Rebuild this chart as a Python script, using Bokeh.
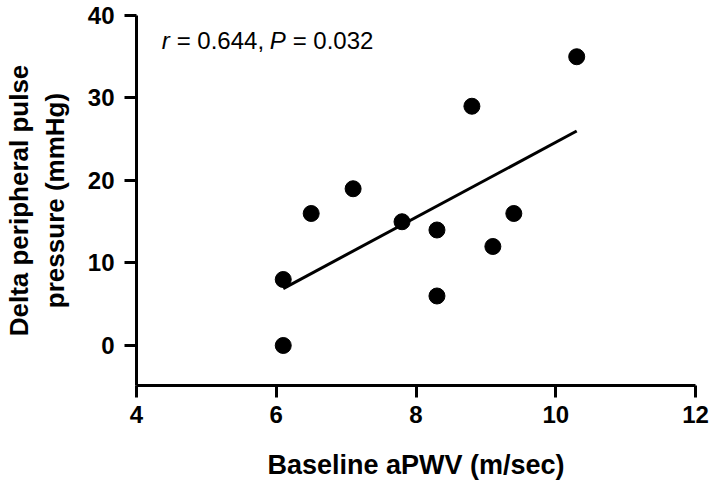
import numpy as np
from bokeh.plotting import figure
from bokeh.models import Range1d, FixedTicker, Label
from bokeh.embed import file_html
from bokeh.resources import INLINE

# Data
aPWV = [6.1, 6.1, 6.5, 7.1, 7.8, 8.3, 8.3, 8.8, 9.1, 9.4, 10.3]
delta_pp = [8, 0, 16, 19, 15, 14, 6, 29, 12, 16, 35]
x_ticks = [4, 6, 8, 10, 12]
y_ticks = [0, 10, 20, 30, 40]
ann_r = "r"
ann_r_val = "= 0.644,"
ann_p = "P"
ann_p_val = "= 0.032"

p = figure(width=709, height=487, output_backend="svg", toolbar_location=None,
           x_range=Range1d(4, 12), y_range=Range1d(-4.85, 40),
           min_border_left=135, min_border_right=14, min_border_top=15, min_border_bottom=102)
p.grid.visible = False
p.outline_line_color = None
p.background_fill_color = "white"
p.border_fill_color = "white"

# regression line from data
slope, intercept = np.polyfit(aPWV, delta_pp, 1)
xl = [min(aPWV), max(aPWV)]
yl = [slope * v + intercept for v in xl]
p.line(xl, yl, line_color="black", line_width=3)

p.scatter(aPWV, delta_pp, size=16, color="black")

for ax in (p.xaxis[0], p.yaxis[0]):
    ax.axis_line_width = 3
    ax.major_tick_line_width = 3
    ax.major_tick_out = 12
    ax.major_tick_in = 0
    ax.minor_tick_line_color = None
    ax.major_label_text_font = "Liberation Sans"
    ax.major_label_text_font_style = "bold"
    ax.major_label_text_font_size = "24px"
    ax.major_label_text_color = "black"
    ax.axis_label_text_font = "Liberation Sans"
    ax.axis_label_text_font_style = "bold"
    ax.axis_label_text_color = "black"

p.xaxis.axis_label_text_font_size = "27px"
p.yaxis.axis_label_text_font_size = "26px"
p.xaxis.ticker = FixedTicker(ticks=x_ticks)
p.yaxis.ticker = FixedTicker(ticks=y_ticks)
p.xaxis.axis_label = "Baseline aPWV (m/sec)"
p.yaxis.axis_label = "Delta peripheral pulse\npressure (mmHg)"
p.xaxis.major_label_standoff = 8
p.yaxis.major_label_standoff = 10
p.xaxis.axis_label_standoff = 24
p.yaxis.axis_label_standoff = 15

# annotation
fs = "24px"
ax0, ay0 = 4.36, 37.0
common = dict(x=ax0, y=ay0, text_font="Liberation Sans", text_font_size=fs,
              text_baseline="middle", text_color="black")
p.add_layout(Label(x_offset=0, text=ann_r, text_font_style="italic", **common))
p.add_layout(Label(x_offset=15, text=ann_r_val, **common))
p.add_layout(Label(x_offset=108, text=ann_p, text_font_style="italic", **common))
p.add_layout(Label(x_offset=131, text=ann_p_val, **common))

open("out.html", "w").write(file_html(p, INLINE))
